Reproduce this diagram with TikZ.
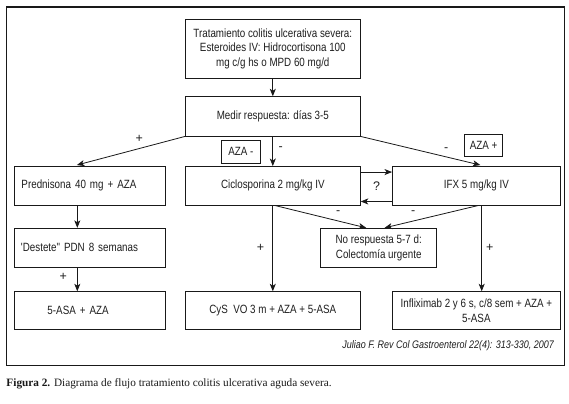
\documentclass[tikz,border=0pt]{standalone}
\usepackage{fontspec}
\setmainfont{Liberation Serif}
\setsansfont{Liberation Sans}
\newfontfamily\diagfont[FakeStretch=0.82]{Liberation Sans}
\usetikzlibrary{arrows.meta,calc}
\begin{document}
\begin{tikzpicture}[x=1bp,y=-1bp,
  box/.style={draw=black!90, line width=0.9bp, inner sep=0pt, align=center, text=black!88,
    font=\diagfont\fontsize{12}{14.5}\selectfont},
  lbl/.style={inner sep=0pt, text=black!88, font=\sffamily\fontsize{12.5}{14.5}\selectfont},
  arr/.style={draw=black!90, line width=0.8bp, -{Stealth[length=7.5bp,width=6bp,inset=2bp]}}]
\useasboundingbox (0,0) rectangle (569,403);
\fill[white] (0,0) rectangle (569,403);
% frame
\draw[black!90, line width=1.2bp] (6.3,7) rectangle (564.3,365.5);
% boxes
\node[box, minimum width=175bp, minimum height=59bp] (top) at (272.8,48.8)
  {Tratamiento colitis ulcerativa severa:\\Esteroides IV: Hidrocortisona 100\\mg c/g hs o MPD 60 mg/d};
\node[box, minimum width=175bp, minimum height=39.3bp] (medir) at (272.8,116.35) {Medir respuesta: días 3-5};
\node[box, minimum width=151.4bp, minimum height=38.5bp, text width=137bp, align=left] (pred) at (90,185.75) {Prednisona 40 mg + AZA};
\node[box, minimum width=175bp, minimum height=38.5bp] (cicl) at (272.8,185.75) {Ciclosporina 2 mg/kg IV};
\node[box, minimum width=167.8bp, minimum height=38.5bp] (ifx) at (476.4,185.75) {IFX 5 mg/kg IV};
\node[box, minimum width=151.4bp, minimum height=39bp, text width=138bp, align=left] (dest) at (90,247.8) {'Destete" PDN 8 semanas};
\node[box, minimum width=116bp, minimum height=39bp] (nores) at (378.7,247.8) {No respuesta 5-7 d:\\Colectomía urgente};
\node[box, minimum width=151.4bp, minimum height=37.6bp, text width=137bp, align=left] (asa) at (90,310.5) {\hspace*{26bp}5-ASA + AZA};
\node[box, minimum width=175bp, minimum height=37.6bp] (cys) at (272.8,310.5) {CyS\ \ VO 3 m + AZA + 5-ASA};
\node[box, minimum width=167.8bp, minimum height=37.6bp] (infl) at (476.4,310.5) {Infliximab 2 y 6 s, c/8 sem + AZA +\\5-ASA};
\node[box, minimum width=39bp, minimum height=23.3bp] (azam) at (240.8,151.65) {AZA -};
\node[box, minimum width=37.6bp, minimum height=22.4bp] (azap) at (483.5,145.5) {AZA +};
% labels
\node[lbl] (p1) at (139.3,139.3) {+};
\node[lbl] (m1) at (280.7,149) {-};
\node[lbl] (m2) at (446.3,149.3) {-};
\node[lbl] (q) at (376.7,186) {?};
\node[lbl] (m3) at (338.3,212.7) {-};
\node[lbl] (m4) at (413.3,212.7) {-};
\node[lbl] (p2) at (260.5,248) {+};
\node[lbl] (p3) at (489.8,248) {+};
\node[lbl] (p4) at (63.3,276.7) {+};
% column coordinates
\coordinate (lc) at (77.3,0);
\coordinate (rc) at (481.7,0);
% connectors
\draw[arr] (top) -- (medir);
\draw[arr] (medir) -- (cicl);
\draw[arr] (medir.south west) -- ($(pred.north west)+(63,-1)$);
\draw[arr] (medir.south east) -- ($(ifx.north west)+(88.3,-1)$);
\draw[arr] ($(cicl.north east)+(0,6)$) -- ($(ifx.north west)+(0,6)$);
\draw[arr] ($(ifx.south west)+(0,-4)$) -- ($(cicl.south east)+(0,-4)$);
\draw[arr] (pred.south -| lc) -- (dest.north -| lc);
\draw[arr] (dest.south -| lc) -- (asa.north -| lc);
\draw[arr] (cicl) -- (cys);
\draw[arr] (ifx.south -| rc) -- (infl.north -| rc);
\draw[arr] ($(cicl.south)+(2,0)$) -- ($(nores.north west)+(46,0)$);
\draw[arr] ($(ifx.south)+(2,0)$) -- ($(nores.north west)+(64.3,0)$);
% citation and caption
\node[anchor=east, inner sep=0pt, text=black!88, font=\diagfont\itshape\fontsize{11}{13}\selectfont] (cite) at (554,346)
  {Juliao F. Rev Col Gastroenterol 22(4): 313-330, 2007};
\node[anchor=west, inner sep=0pt, text=black!90, font=\fontsize{11.3}{13}\selectfont] (cap) at (6.3,384)
  {\textbf{Figura 2.} Diagrama de flujo tratamiento colitis ulcerativa aguda severa.};
\end{tikzpicture}
\end{document}
